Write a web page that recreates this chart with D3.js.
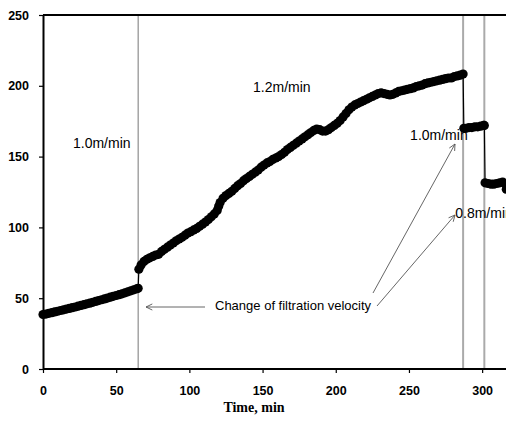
<!DOCTYPE html>
<html>
<head>
<meta charset="utf-8">
<script src="https://cdn.jsdelivr.net/npm/d3@7"></script>
<style>
  body { margin: 0; background: #fff; }
  svg { display: block; }
</style>
</head>
<body>
<div id="chart"></div>
<script>
// filtration run: time (min) vs value
const seg1Time = [0,2,4,6,8,10,12,14,16,18,20,22,24,26,28,30,32,34,36,38,40,42,44,46,48,50,52,54,56,58,60,62,64,65];
const seg1Value = [38.5,38.8,39.3,39.8,40.3,40.8,41.3,41.8,42.3,42.8,43.3,43.8,44.4,44.9,45.4,46.0,46.5,47.1,47.7,48.3,48.9,49.5,50.1,50.7,51.3,51.9,52.5,53.1,53.8,54.5,55.2,55.9,56.6,57.0];

const seg2Time = [65.5,67,69,71,73,75,77,79,81,83,85,87,89,91,93,95,97,99,101,103,105,107,109,111,113,115,117,119,120,121,123,125,127,129,131,133,135,137,139,141,143,145,147,149,151,153,155,157,159,161,163,165,167,169,171,173,175,177,179,181,183,185,187,189,191,193,195,197,199,201,203,205,207,209,211,213,215,217,219,221,223,225,227,229,231,233,235,237,239,241,243,245,247,249,251,253,255,257,259,261,263,265,267,269,271,273,275,277,279,281,283,285,287];
const seg2Value = [70.5,73.5,76,77.5,78.5,79.5,80.5,81,83,84.5,86,87.5,89,90.5,91.8,93,94.5,96,97,98.2,99.3,100.8,102.3,103.8,105.5,107.5,109.5,112,115,117.5,120.5,122.5,124,125.5,127.5,129.5,131,133,134.5,136,137.5,139,140.5,142.5,144,145.5,146.5,148,149,150,151.5,153,155,156.5,158,159.5,161,162.5,164,165.5,167,168.5,169.5,169,168,168,169,170.5,172,173.5,175.5,178,180.5,183,185,186.5,187.5,188.5,189.5,190.5,191.5,192.5,193.5,194.5,195,194.5,194,193.5,194,195,196,196.5,197,197.5,198,198.5,199.5,200,200.5,201.5,202,202.5,203,203.5,204,204.5,205,205.5,205.5,206.5,207,207.5,208.3];

const seg3Time = [287.5,289,291,293,295,297,299,301,301.5];
const seg3Value = [170,170,170.5,170.5,171,171,171.5,172,172];

const seg4Time = [302,304,306,308,310,312,314,315.5,316.5];
const seg4Value = [131.5,131,130.5,130.5,131,131.5,132,131,127];

const xTicks = [0,50,100,150,200,250,300];
const yTicks = [0,50,100,150,200,250];
const changeTimes = [65, 287, 301.5];
const velocityLabels = [
  { text: "1.0m/min", t: 20.5, v: 156 },
  { text: "1.2m/min", t: 143.5, v: 195.6 },
  { text: "1.0m/min", t: 250.8, v: 161.7 },
  { text: "0.8m/min", t: 281.6, v: 106.6 }
];

const width = 506, height = 430;
const plotLeft = 43, plotTop = 15, plotBottom = 369;

const svg = d3.select("#chart").append("svg")
  .attr("width", width)
  .attr("height", height);

const x = d3.scaleLinear().domain([0, 316.3]).range([plotLeft, width]);
const y = d3.scaleLinear().domain([0, 250]).range([plotBottom, plotTop]);

const points = [];
[[seg1Time, seg1Value], [seg2Time, seg2Value], [seg3Time, seg3Value], [seg4Time, seg4Value]]
  .forEach(function (s) {
    s[0].forEach(function (t, i) { points.push({ t: t, v: s[1][i] }); });
  });

// velocity change markers
svg.append("g").selectAll("line")
  .data(changeTimes)
  .enter().append("line")
  .attr("x1", function (d) { return x(d); })
  .attr("x2", function (d) { return x(d); })
  .attr("y1", plotTop)
  .attr("y2", plotBottom)
  .attr("stroke", function (d, i) { return i == 0 ? "#777" : "#aaa"; })
  .attr("stroke-width", function (d, i) { return i == 0 ? 1 : 2; });

// top frame
svg.append("line")
  .attr("x1", plotLeft).attr("x2", width)
  .attr("y1", plotTop).attr("y2", plotTop)
  .attr("stroke", "#000").attr("stroke-width", 2);

// thin connecting line
const line = d3.line().x(function (d) { return x(d.t); }).y(function (d) { return y(d.v); });
svg.append("path")
  .datum(points)
  .attr("fill", "none")
  .attr("stroke", "#000")
  .attr("stroke-width", 1.2)
  .attr("d", line);

svg.append("g").selectAll("circle")
  .data(points)
  .enter().append("circle")
  .attr("cx", function (d) { return x(d.t); })
  .attr("cy", function (d) { return y(d.v); })
  .attr("r", 4.6)
  .attr("fill", "#000");

// axes
const xAxis = svg.append("g")
  .attr("transform", "translate(0," + plotBottom + ")")
  .call(d3.axisBottom(x).tickValues(xTicks).tickSize(4).tickPadding(13).tickSizeOuter(0));
const yAxis = svg.append("g")
  .attr("transform", "translate(" + plotLeft + ",0)")
  .call(d3.axisLeft(y).tickValues(yTicks).tickSize(4).tickPadding(10).tickSizeOuter(0));

[xAxis, yAxis].forEach(function (a) {
  a.select(".domain").attr("stroke-width", 2);
  a.selectAll(".tick line").attr("stroke-width", 1.2);
  a.selectAll("text")
    .style("font-family", "Liberation Sans, Arial, sans-serif")
    .style("font-size", "12.5px")
    .style("font-weight", "bold")
    .attr("fill", "#000");
});
xAxis.select(".domain").attr("d", "M" + plotLeft + ",0H" + width);

svg.append("text")
  .attr("x", 254)
  .attr("y", 412)
  .attr("text-anchor", "middle")
  .style("font-family", "Liberation Serif, Times New Roman, serif")
  .style("font-weight", "bold")
  .style("font-size", "14px")
  .text("Time, min");

// annotations
svg.append("g").selectAll("text")
  .data(velocityLabels)
  .enter().append("text")
  .attr("x", function (d) { return x(d.t); })
  .attr("y", function (d) { return y(d.v); })
  .style("font-family", "Liberation Sans, Arial, sans-serif")
  .style("font-size", "14px")
  .text(function (d) { return d.text; });

svg.append("text")
  .attr("x", 215)
  .attr("y", 310)
  .style("font-family", "Liberation Sans, Arial, sans-serif")
  .style("font-size", "13px")
  .text("Change of filtration velocity");

const arrows = [
  [[205, 307], [146, 307]],
  [[373, 293], [455, 144]],
  [[377, 306], [455, 215]]
];
arrows.forEach(function (a) {
  const p0 = a[0], p1 = a[1];
  const ang = Math.atan2(p1[1] - p0[1], p1[0] - p0[0]);
  const len = 7, spread = 0.45;
  svg.append("line")
    .attr("x1", p0[0]).attr("y1", p0[1])
    .attr("x2", p1[0]).attr("y2", p1[1])
    .attr("stroke", "#555").attr("stroke-width", 0.9);
  svg.append("path")
    .attr("d", "M" + (p1[0] - len * Math.cos(ang - spread)) + "," + (p1[1] - len * Math.sin(ang - spread)) +
      "L" + p1[0] + "," + p1[1] +
      "L" + (p1[0] - len * Math.cos(ang + spread)) + "," + (p1[1] - len * Math.sin(ang + spread)))
    .attr("fill", "none")
    .attr("stroke", "#555").attr("stroke-width", 0.9);
});
</script>
</body>
</html>
